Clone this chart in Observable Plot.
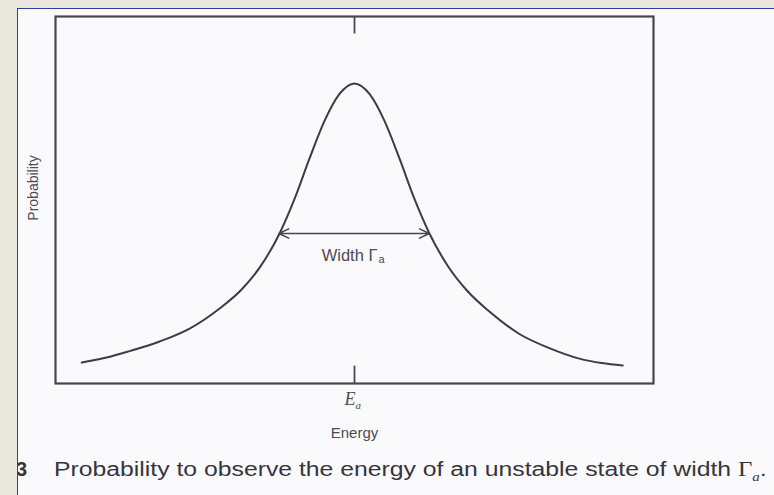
<!DOCTYPE html>
<html>
<head>
<meta charset="utf-8">
<script src="https://cdn.jsdelivr.net/npm/d3@7"></script>
<script src="https://cdn.jsdelivr.net/npm/@observablehq/plot@0.6"></script>
<style>
  html, body { margin: 0; padding: 0; }
  body { width: 774px; height: 495px; background: #ebe9df; position: relative; overflow: hidden; }
  #page {
    position: absolute; left: 17px; top: 8px; right: 0; bottom: 0;
    background: #fafafc;
    border-left: 1.5px solid #2b3f9e; border-top: 1.5px solid #2b3f9e;
    overflow: hidden;
  }
  #chart { position: absolute; left: -18.5px; top: -9.5px; }
  #caption {
    position: absolute; left: 0; top: 449px; white-space: nowrap;
    font-family: "Liberation Sans", Arial, sans-serif; font-size: 20px; color: #37343c;
  }
  #caption .num { position: absolute; left: -2px; font-weight: bold; }
  #caption .txt { position: absolute; left: 36px; transform-origin: 0 50%; }
  #caption .gamma { font-family: "Liberation Serif", "DejaVu Serif", serif; }
  #caption sub { font-size: 12px; font-style: italic; font-family: "Liberation Serif", serif; }
</style>
</head>
<body>
<div id="page">
  <div id="chart"></div>
  <div id="caption"><span class="num">3</span><span class="txt">Probability to observe the energy of an unstable state of width <span class="gamma">Γ</span><sub>a</sub>.</span></div>
</div>
<script>
// Resonance line shape: energy offset from E_a (in half-widths) and relative probability
const energy      = [-3.64, -3.25, -3.0, -2.6, -2.2, -1.8, -1.5, -1.25, -1.0, -0.8, -0.6, -0.4, -0.2, 0, 0.2, 0.4, 0.6, 0.8, 1.0, 1.25, 1.5, 1.8, 2.2, 2.6, 3.0, 3.3, 3.58];
const probability = [0.07, 0.09, 0.108, 0.14, 0.183, 0.25, 0.315, 0.392, 0.5, 0.615, 0.75, 0.875, 0.965, 1.0, 0.965, 0.875, 0.75, 0.615, 0.5, 0.39, 0.31, 0.24, 0.165, 0.118, 0.083, 0.068, 0.06];

// Full width at half maximum
const halfMax = 0.5;
const widthEnds = [-1.01, 1.0];
const widthLabel = ["Width Γ", "a"];

// Axis annotations
const peakEnergy = 0;
const peakLabel = ["E", "a"];
const xTitle = "Energy";
const yTitle = "Probability";

const xDomain = [-3.99, 3.99];
const yDomain = [0, 1.223];
const tickLen = 0.058;

const curve = energy.map((e, i) => ({e, p: probability[i]}));
const ink = "#3e3a46";
const frameInk = "#4a4552";
const labelInk = "#4d4a53";

const plot = Plot.plot({
  width: 680,
  height: 460,
  marginLeft: 55,
  marginRight: 27,
  marginTop: 16,
  marginBottom: 77,
  x: {domain: xDomain, axis: null},
  y: {domain: yDomain, axis: null},
  style: {background: "transparent", fontFamily: "'Liberation Sans', Arial, sans-serif"},
  marks: [
    Plot.frame({stroke: frameInk, strokeWidth: 2.2}),
    // E_a ticks on the bottom and top edges
    Plot.ruleX([peakEnergy], {y1: yDomain[0], y2: yDomain[0] + tickLen, stroke: frameInk, strokeWidth: 1.8}),
    Plot.ruleX([peakEnergy], {y1: yDomain[1], y2: yDomain[1] - tickLen, stroke: frameInk, strokeWidth: 1.8}),
    Plot.line(curve, {x: "e", y: "p", curve: "monotone-x", stroke: ink, strokeWidth: 2}),
    // Double-headed width arrow at half maximum
    Plot.arrow(widthEnds, {
      x1: peakEnergy, x2: d => d, y1: halfMax, y2: halfMax,
      stroke: frameInk, strokeWidth: 1.5, headLength: 11, headAngle: 50
    }),
    Plot.text([widthLabel[0]], {x: peakEnergy, y: halfMax, dy: 22, dx: 23, textAnchor: "end", fontSize: 16.5, fill: labelInk}),
    Plot.text([widthLabel[1]], {x: peakEnergy, y: halfMax, dy: 26, dx: 24, textAnchor: "start", fontSize: 11, fill: labelInk}),
    Plot.text([peakLabel[0]], {x: peakEnergy, frameAnchor: "bottom", dy: 21, dx: 1, textAnchor: "end", fontSize: 18, fontStyle: "italic",
      fontFamily: "'Liberation Serif', 'DejaVu Serif', serif", fill: labelInk}),
    Plot.text([peakLabel[1]], {x: peakEnergy, frameAnchor: "bottom", dy: 25, dx: 1, textAnchor: "start", fontSize: 11, fontStyle: "italic",
      fontFamily: "'Liberation Serif', 'DejaVu Serif', serif", fill: labelInk}),
    Plot.text([xTitle], {frameAnchor: "bottom", dy: 54, fontSize: 15, fill: labelInk}),
    Plot.text([yTitle], {frameAnchor: "left", textAnchor: "middle", rotate: -90, dx: -22, dy: -12, fontSize: 14, fill: labelInk})
  ]
});
document.getElementById("chart").appendChild(plot);

// Stretch the caption line across the page width
const txt = document.querySelector("#caption .txt");
txt.style.transform = `scaleX(${713 / txt.offsetWidth})`;
</script>
</body>
</html>
